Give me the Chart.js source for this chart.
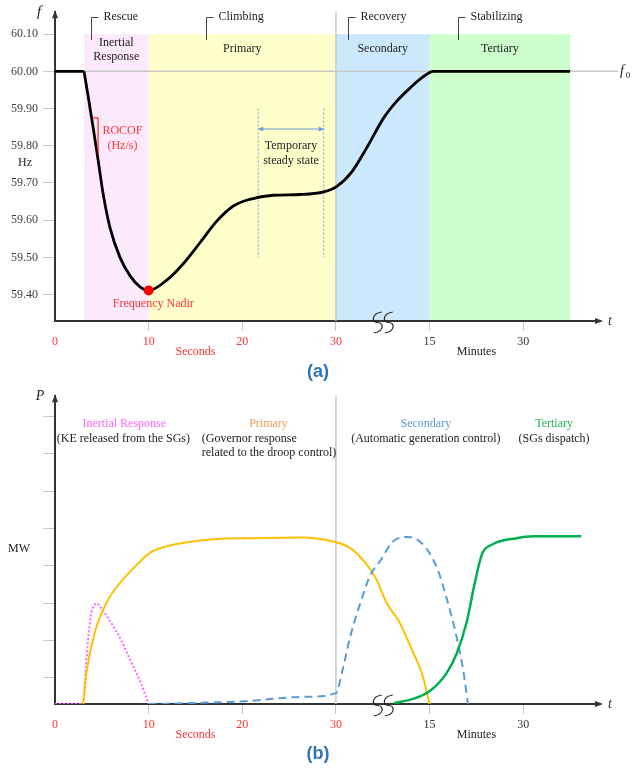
<!DOCTYPE html>
<html>
<head>
<meta charset="utf-8">
<script src="https://cdn.jsdelivr.net/npm/chart.js@4.4.0/dist/chart.umd.min.js"></script>
<style>
  body { margin: 0; background: #fff; width: 632px; height: 769px; position: relative; overflow: hidden; }
  .box { position: absolute; left: 0; width: 632px; }
  .cap { position: absolute; left: 0; width: 636px; text-align: center; font: bold 18px "Liberation Sans", Arial, sans-serif; color: #2e75b6; line-height: 20px; }
</style>
</head>
<body>
<div class="box" style="top:0;height:362px"><canvas id="freqChart"></canvas></div>
<div class="cap" style="top:361px">(a)</div>
<div class="box" style="top:384px;height:361px"><canvas id="powerChart"></canvas></div>
<div class="cap" style="top:743px">(b)</div>
<script>
const SERIF = '"Liberation Serif", "Times New Roman", serif';
const RED = '#ff3333';

// x axis: 0-30 seconds, then break, 15 and 30 minutes
const tickPos = [0, 10, 20, 30, 40, 50];
const tickText = ['0', '10', '20', '30', '15', '30'];

// (a) frequency response: flat until the event, then the drop / recovery
const preT  = [0, 3.1];
const preHz = [60.00, 60.00];
const freqT  = [3.1, 3.56, 4.09, 4.63, 5.16, 5.87, 6.94, 8.0, 9.08, 10, 11.9, 13.7, 15.5, 17.3, 19.05, 20.8, 23.3, 26.2, 28.7, 30.1, 31.7, 33.3, 35.1, 36.5, 37.9, 39.3, 40.4, 55];
const freqHz = [60.00, 59.930, 59.846, 59.757, 59.668, 59.58, 59.50, 59.451, 59.421, 59.411, 59.438, 59.483, 59.54, 59.598, 59.638, 59.656, 59.667, 59.669, 59.676, 59.691, 59.73, 59.795, 59.875, 59.92, 59.955, 59.985, 60.00, 60.00];
const nadirT = [10];
const nadirHz = [59.411];
const freqTicks = [59.40, 59.50, 59.60, 59.70, 59.80, 59.90, 60.00, 60.10];
const nominalHz = 60.00;

const phaseNames = [['Inertial', 'Response'], ['Primary'], ['Secondary'], ['Tertiary']];
const phaseStart = [3.1, 10, 30, 40];
const phaseEnd = [10, 30, 40, 55];
const stageNames = ['Rescue', 'Climbing', 'Recovery', 'Stabilizing'];
const stageT = [3.85, 16.1, 31.3, 43.0];
const steadyFrom = 21.7, steadyTo = 28.7;

// (b) power contributions
const inertiaT = [0, 3.0, 3.3, 3.6, 3.9, 4.5, 4.9, 6.2, 7.1, 7.9, 9.2, 10];
const inertiaP = [0, 0, 10, 19, 24.5, 26.9, 25.8, 20.9, 16.9, 12.5, 5.4, 0];
const primaryT = [3.0, 3.4, 4.3, 5.6, 7.1, 8.4, 10.1, 11.9, 14.1, 17.3, 20.8, 26.2, 29.7, 31.5, 33.3, 34.3, 35.4, 36.7, 38.0, 39.3, 40.0];
const primaryP = [0, 9, 19.6, 27.6, 32.9, 36.4, 40.4, 42.2, 43.3, 44.2, 44.4, 44.6, 43.5, 41.8, 37.3, 33.5, 27.1, 22.3, 15.2, 7.2, 0];
const secondaryT = [10, 15, 20, 26.4, 30, 30.7, 31.5, 32.8, 33.7, 34.7, 36.1, 37.7, 39.3, 40.8, 41.8, 42.9, 43.6, 44.1];
const secondaryP = [0, 0.3, 0.7, 1.9, 2.9, 9, 17.8, 28.5, 34.7, 38.2, 43.5, 44.7, 42.7, 36.4, 28.5, 17.8, 9, 0];
const tertiaryT = [36.2, 38.4, 40.1, 41.8, 42.9, 44.0, 44.8, 45.6, 46.7, 49.3, 51.1, 56.2];
const tertiaryP = [0.2, 1.5, 3.6, 8.2, 13.5, 22.3, 32.1, 40.1, 42.7, 44.4, 44.9, 44.9];
const powerTicks = [7, 17, 27, 37, 47, 57, 67, 77];

const phaseColors = ['#fde9fc', '#ffffcc', '#cce8fc', '#ccffcc'];

const pts = (xs, ys) => xs.map((x, i) => ({ x: x, y: ys[i] }));

function label(ctx, s, x, y, color, opts = {}) {
  ctx.save();
  ctx.font = (opts.italic ? 'italic ' : '') + (opts.size || 12) + 'px ' + SERIF;
  ctx.fillStyle = color;
  ctx.textAlign = opts.align || 'center';
  ctx.textBaseline = 'middle';
  ctx.fillText(s, x, y);
  ctx.restore();
}

function vline(ctx, x, y1, y2, color, width, dash) {
  ctx.save();
  ctx.strokeStyle = color;
  ctx.lineWidth = width;
  ctx.setLineDash(dash || []);
  ctx.beginPath();
  ctx.moveTo(x, y1);
  ctx.lineTo(x, y2);
  ctx.stroke();
  ctx.restore();
}

function xScale() {
  return {
    type: 'linear', min: 0, max: 58.2,
    afterBuildTicks: s => { s.ticks = tickPos.map(v => ({ value: v })); },
    afterFit: s => { s.height = 41; },
    ticks: {
      callback: (v, i) => tickText[i],
      color: c => c.index < 4 ? RED : '#333',
      font: { family: SERIF, size: 12 },
      padding: 4, maxRotation: 0, autoSkip: false
    },
    grid: {
      drawOnChartArea: false, tickLength: 10,
      color: c => (c.tick && c.tick.value === 0) ? 'rgba(0,0,0,0)' : '#c8c8c8'
    },
    border: { color: '#333', width: 2 }
  };
}

function yScale(min, max, ticks, showLabels) {
  return {
    type: 'linear', min: min, max: max,
    afterBuildTicks: s => { s.ticks = ticks.map(v => ({ value: v })); },
    afterFit: s => { s.width = 55; },
    ticks: {
      callback: v => showLabels ? v.toFixed(2) : '',
      color: '#404040', font: { family: SERIF, size: 12 }, padding: 5
    },
    grid: { drawOnChartArea: false, tickLength: 12, color: '#c8c8c8' },
    border: { color: '#333', width: 2 }
  };
}

// arrows, axis break, unit labels shared by both panels
const axisDecor = {
  id: 'axisDecor',
  beforeDatasetsDraw(chart) {
    const { ctx, chartArea: a, scales: { x } } = chart;
    vline(ctx, x.getPixelForValue(30), a.top, a.bottom, '#c8c8c8', 1.5);
  },
  afterDraw(chart) {
    const { ctx, chartArea: a, scales: { x } } = chart;
    ctx.save();
    ctx.fillStyle = '#333';
    ctx.beginPath();
    ctx.moveTo(a.left, a.top - 2); ctx.lineTo(a.left - 3, a.top + 6); ctx.lineTo(a.left + 3, a.top + 6);
    ctx.fill();
    ctx.beginPath();
    ctx.moveTo(a.right + 3, a.bottom); ctx.lineTo(a.right - 5, a.bottom - 3); ctx.lineTo(a.right - 5, a.bottom + 3);
    ctx.fill();
    // axis break
    const cx = x.getPixelForValue(35) - 5, top = a.bottom - 9, bot = a.bottom + 12, mid = (top + bot) / 2;
    ctx.strokeStyle = '#222';
    ctx.lineWidth = 1.2;
    [0, 11].forEach(off => {
      ctx.beginPath();
      ctx.moveTo(cx + 4 + off, top);
      ctx.bezierCurveTo(cx - 7 + off, top + 2, cx - 6 + off, mid, cx + off, mid);
      ctx.bezierCurveTo(cx + 6 + off, mid, cx + 7 + off, bot - 2, cx - 4 + off, bot);
      ctx.stroke();
    });
    ctx.restore();
    label(ctx, 't', a.right + 10, a.bottom, '#333', { italic: true, size: 14 });
    label(ctx, 'Seconds', x.getPixelForValue(15), a.bottom + 31, RED);
    label(ctx, 'Minutes', x.getPixelForValue(45), a.bottom + 31, '#222');
  }
};

const freqDecor = {
  id: 'freqDecor',
  beforeDraw(chart) {
    const { ctx, chartArea: a, scales: { x, y } } = chart;
    const top = y.getPixelForValue(60.10);
    ctx.save();
    phaseStart.forEach((t, i) => {
      const x1 = x.getPixelForValue(t), x2 = x.getPixelForValue(phaseEnd[i]);
      ctx.fillStyle = phaseColors[i];
      ctx.fillRect(x1, top, x2 - x1, a.bottom - top);
    });
    ctx.restore();
  },
  beforeDatasetsDraw(chart) {
    const { ctx, chartArea: a, scales: { x, y } } = chart;
    const y0 = y.getPixelForValue(nominalHz);
    ctx.save();
    ctx.strokeStyle = '#c8c8c8';
    ctx.lineWidth = 1.5;
    ctx.beginPath();
    ctx.moveTo(a.left, y0); ctx.lineTo(a.right + 18, y0);
    ctx.stroke();
    ctx.restore();
    // temporary steady state
    [steadyFrom, steadyTo].forEach(t => {
      vline(ctx, x.getPixelForValue(t), y.getPixelForValue(59.90), y.getPixelForValue(59.50), '#6a9fd4', 1, [2, 2]);
    });
  },
  afterDatasetsDraw(chart) {
    const { ctx, chartArea: a, scales: { x, y } } = chart;
    const dark = '#222';
    // phase names
    phaseNames.forEach((lines, i) => {
      const cx = x.getPixelForValue((phaseStart[i] + phaseEnd[i]) / 2);
      if (lines.length === 2) {
        label(ctx, lines[0], cx, 43, dark);
        label(ctx, lines[1], cx, 57, dark);
      } else {
        label(ctx, lines[0], cx, 49, dark);
      }
    });
    // stage brackets
    ctx.save();
    ctx.strokeStyle = '#444';
    ctx.lineWidth = 1;
    stageT.forEach((t, i) => {
      const bx = Math.round(x.getPixelForValue(t)) + 0.5;
      ctx.beginPath();
      ctx.moveTo(bx + 7, 17.5); ctx.lineTo(bx, 17.5); ctx.lineTo(bx, 40);
      ctx.stroke();
      label(ctx, stageNames[i], bx + 12, 17, dark, { align: 'left' });
    });
    // ROCOF bracket
    ctx.strokeStyle = '#ff0000';
    const rx1 = x.getPixelForValue(3.95), rx2 = x.getPixelForValue(4.6);
    ctx.beginPath();
    ctx.moveTo(rx1, y.getPixelForValue(59.875));
    ctx.lineTo(rx2, y.getPixelForValue(59.875));
    ctx.lineTo(rx2, y.getPixelForValue(59.776));
    ctx.stroke();
    // steady-state arrow
    const ay = y.getPixelForValue(59.845), ax1 = x.getPixelForValue(steadyFrom), ax2 = x.getPixelForValue(steadyTo);
    ctx.strokeStyle = '#6a9fd4';
    ctx.fillStyle = '#6a9fd4';
    ctx.beginPath();
    ctx.moveTo(ax1, ay); ctx.lineTo(ax2, ay);
    ctx.stroke();
    ctx.beginPath();
    ctx.moveTo(ax1, ay); ctx.lineTo(ax1 + 5, ay - 2.5); ctx.lineTo(ax1 + 5, ay + 2.5);
    ctx.moveTo(ax2, ay); ctx.lineTo(ax2 - 5, ay - 2.5); ctx.lineTo(ax2 - 5, ay + 2.5);
    ctx.fill();
    ctx.restore();
    const mx = x.getPixelForValue((steadyFrom + steadyTo) / 2);
    label(ctx, 'Temporary', mx, y.getPixelForValue(59.80), dark);
    label(ctx, 'steady state', mx, y.getPixelForValue(59.76), dark);
    label(ctx, 'ROCOF', x.getPixelForValue(7.2), y.getPixelForValue(59.84), RED);
    label(ctx, '(Hz/s)', x.getPixelForValue(7.2), y.getPixelForValue(59.80), RED);
    label(ctx, 'Frequency Nadir', x.getPixelForValue(10.5), y.getPixelForValue(59.375), RED);
    // axis names
    label(ctx, 'f', 39, 12, '#222', { italic: true, size: 15 });
    label(ctx, 'Hz', 25, 163, '#222');
    label(ctx, 'f', a.right + 22, y.getPixelForValue(nominalHz), '#222', { italic: true, size: 14 });
    label(ctx, '0', a.right + 28, y.getPixelForValue(nominalHz) + 4, '#222', { size: 9 });
  }
};

const powerDecor = {
  id: 'powerDecor',
  afterDatasetsDraw(chart) {
    const { ctx, scales: { x } } = chart;
    const dark = '#222';
    label(ctx, 'Inertial Response', x.getPixelForValue(7.4), 40, '#ff66ff');
    label(ctx, '(KE released from the SGs)', x.getPixelForValue(7.3), 55, dark);
    label(ctx, 'Primary', x.getPixelForValue(22.8), 40, '#f59d56');
    label(ctx, '(Governor response', x.getPixelForValue(15.67), 55, dark, { align: 'left' });
    label(ctx, 'related to the droop control)', x.getPixelForValue(15.67), 69, dark, { align: 'left' });
    label(ctx, 'Secondary', x.getPixelForValue(39.6), 40, '#5b9bd5');
    label(ctx, '(Automatic generation control)', x.getPixelForValue(39.6), 55, dark);
    label(ctx, 'Tertiary', x.getPixelForValue(53.3), 40, '#1eb45a');
    label(ctx, '(SGs dispatch)', x.getPixelForValue(53.3), 55, dark);
    label(ctx, 'P', 40, 12, '#222', { italic: true, size: 14 });
    label(ctx, 'MW', 19, 165, '#222');
  }
};

const common = {
  responsive: true, maintainAspectRatio: false, animation: false,
  layout: { padding: { top: 10, right: 32, left: 0, bottom: 0 } },
  plugins: { legend: { display: false }, tooltip: { enabled: false } },
  elements: { point: { radius: 0 } }
};

new Chart(document.getElementById('freqChart'), {
  type: 'line',
  data: {
    datasets: [
      { data: pts(nadirT, nadirHz), showLine: false, pointRadius: 5, pointBackgroundColor: '#ff0000', pointBorderWidth: 0 },
      { data: pts(preT, preHz), borderColor: '#000', borderWidth: 2.8, fill: false },
      { data: pts(freqT, freqHz), borderColor: '#000', borderWidth: 2.8, cubicInterpolationMode: 'monotone', fill: false }
    ]
  },
  options: Object.assign({}, common, {
    scales: { x: xScale(), y: yScale(59.329, 60.159, freqTicks, true) }
  }),
  plugins: [freqDecor, axisDecor]
});

new Chart(document.getElementById('powerChart'), {
  type: 'line',
  data: {
    datasets: [
      { data: pts(tertiaryT, tertiaryP), borderColor: '#00b050', borderWidth: 2.5, cubicInterpolationMode: 'monotone' },
      { data: pts(secondaryT, secondaryP), borderColor: '#5b9bd5', borderWidth: 2, borderDash: [8, 5], cubicInterpolationMode: 'monotone' },
      { data: pts(primaryT, primaryP), borderColor: '#ffc000', borderWidth: 2, cubicInterpolationMode: 'monotone' },
      { data: pts(inertiaT, inertiaP), borderColor: '#ff66ff', borderWidth: 2, borderDash: [2, 2], cubicInterpolationMode: 'monotone' }
    ]
  },
  options: Object.assign({}, common, {
    scales: { x: xScale(), y: yScale(0, 82.4, powerTicks, false) }
  }),
  plugins: [powerDecor, axisDecor]
});
</script>
</body>
</html>
